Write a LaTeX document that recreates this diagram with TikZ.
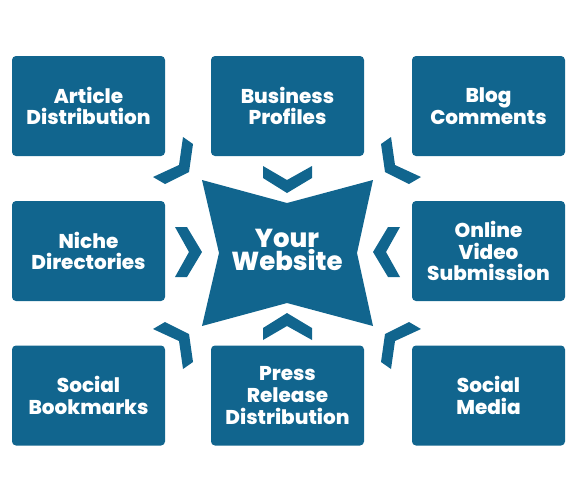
\documentclass[tikz,border=0pt]{standalone}
\usepackage{fontspec}
\setmainfont{Poppins}[BoldFont={* ExtraBold}]
\definecolor{seoblue}{RGB}{17,101,142}
\begin{document}
\begin{tikzpicture}[x=1pt,y=-1pt,
  box/.style={fill=seoblue,rounded corners=4pt,minimum width=153pt,minimum height=100pt,
    inner sep=0pt,text=white,align=center,font=\fontsize{20}{21.8}\selectfont\bfseries},
  chev/.style={fill=seoblue}]
\useasboundingbox (0,0) rectangle (577,491);
% boxes
\node[box] (ad) at (88.5,106) {Article\\Distribution};
\node[box] (bp) at (287.5,106) {Business\\Profiles};
\node[box] (bc) at (488.5,106) {Blog\\Comments};
\node[box] (nd) at (88.5,251) {Niche\\Directories};
\node[box] (ov) at (488.5,251) {Online\\Video\\Submission};
\node[box] (sb) at (88.5,395.5) {Social\\Bookmarks};
\node[box] (pr) at (287.5,395.5) {Press\\Release\\Distribution};
\node[box] (sm) at (488.5,395.5) {Social\\Media};
% star
\fill[seoblue] (202,180) -- (287,203) -- (373,180) -- (357,253) -- (373,326)
  -- (287,303) -- (202,326) -- (219,253) -- cycle;
\node[text=white,align=center,font=\fontsize{26}{23.5}\selectfont\bfseries] (yw) at (287,250) {Your\\Website};
% straight chevrons
\fill[chev] (263,166) -- (287,180) -- (312,166) -- (312,178) -- (287,193) -- (263,178) -- cycle;
\fill[chev] (263,340) -- (287,326) -- (312,340) -- (312,328) -- (287,313) -- (263,328) -- cycle;
\fill[chev] (175,227) -- (187,227) -- (202,252) -- (187,277) -- (175,277) -- (189,252) -- cycle;
\fill[chev] (400,227) -- (388,227) -- (373,252) -- (388,277) -- (400,277) -- (386,252) -- cycle;
% diagonal chevrons
\fill[chev] (183,137) -- (179,165) -- (153,177) -- (165,184) -- (189,172) -- (193,144) -- cycle;
\fill[chev] (391,137) -- (395,165) -- (421,177) -- (409,184) -- (385,172) -- (381,144) -- cycle;
\fill[chev] (183,369) -- (179,341) -- (153,329) -- (165,322) -- (189,334) -- (193,362) -- cycle;
\fill[chev] (391,369) -- (395,341) -- (421,329) -- (409,322) -- (385,334) -- (381,362) -- cycle;
\end{tikzpicture}
\end{document}
